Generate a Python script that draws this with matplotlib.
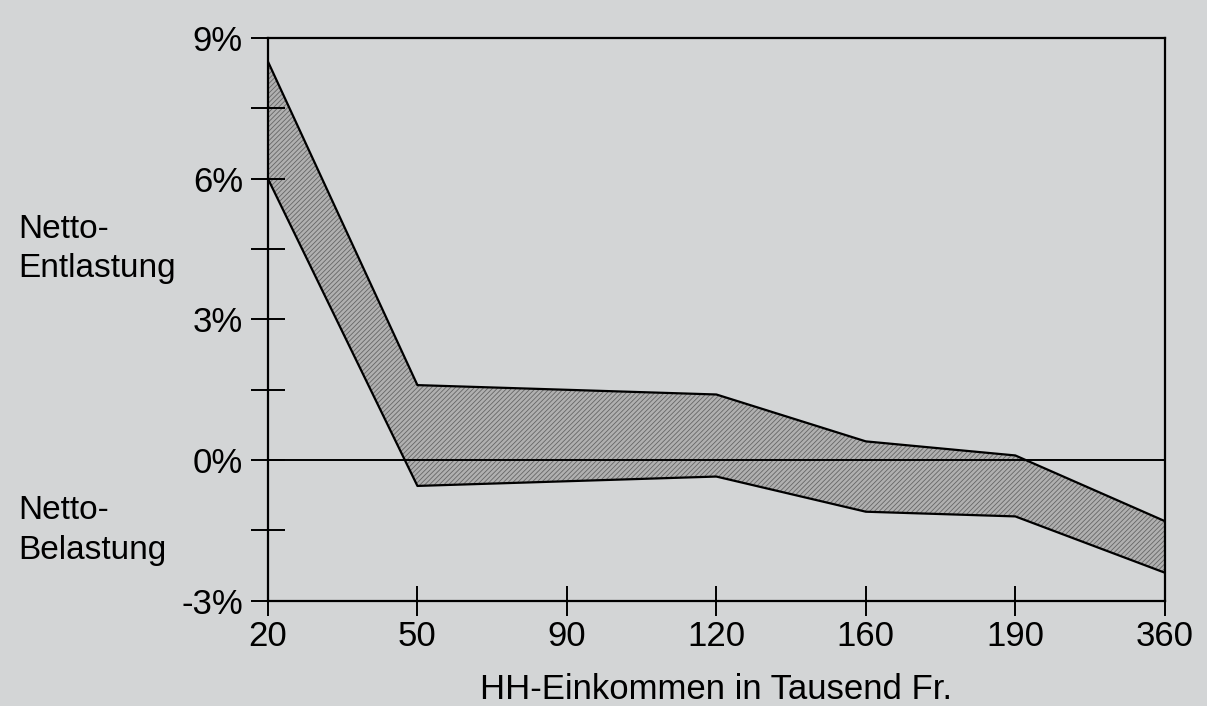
import matplotlib
matplotlib.use("Agg")
import matplotlib.pyplot as plt
import matplotlib.transforms as mtransforms

# daten
einkommen = ["20", "50", "90", "120", "160", "190", "360"]
obere_grenze = [8.5, 1.6, 1.5, 1.4, 0.4, 0.1, -1.3]
untere_grenze = [6.0, -0.55, -0.45, -0.35, -1.1, -1.2, -2.4]
y_ticks = [-3, 0, 3, 6, 9]
y_minor = [-1.5, 1.5, 4.5, 7.5]

plt.rcParams['font.family'] = ['Liberation Sans', 'DejaVu Sans']
plt.rcParams['hatch.linewidth'] = 0.6
plt.rcParams['hatch.color'] = '#666666'

papier = '#d3d5d6'
fig = plt.figure(figsize=(12.07, 7.06), dpi=100, facecolor=papier)
ax = fig.add_axes([0.222, 0.149, 0.743, 0.797])
ax.set_facecolor(papier)

x = list(range(len(einkommen)))
ax.fill_between(x, untere_grenze, obere_grenze, facecolor='#b0b0b0',
                hatch='///////', edgecolor='#666666', linewidth=0, zorder=1)
ax.plot(x, obere_grenze, color='black', lw=1.6, zorder=3)
ax.plot(x, untere_grenze, color='black', lw=1.6, zorder=3)
ax.axhline(0, color='black', lw=1.4, zorder=2)

ax.set_xlim(0, len(einkommen) - 1)
ax.set_ylim(-3, 9)
ax.set_xticks(x)
ax.set_xticklabels(einkommen)
ax.set_yticks(y_ticks)
ax.set_yticklabels([f"{v}%" for v in y_ticks])
ax.set_yticks(y_minor, minor=True)

for s in ax.spines.values():
    s.set_linewidth(1.6)
    s.set_color('black')

ax.tick_params(axis='y', which='both', direction='inout', length=24, width=1.4,
               labelsize=25, pad=6)
ax.tick_params(axis='x', which='major', direction='inout', length=22, width=1.4,
               labelsize=25, pad=3)

ax.set_xlabel("HH-Einkommen in Tausend Fr.", fontsize=25, labelpad=14)

# seitliche beschriftungen
trans = mtransforms.blended_transform_factory(fig.transFigure, ax.transData)
ax.text(0.015, 4.5, "Netto-\nEntlastung", transform=trans, fontsize=24,
        ha='left', va='center', linespacing=1.35)
ax.text(0.015, -1.5, "Netto-\nBelastung", transform=trans, fontsize=24,
        ha='left', va='center', linespacing=1.35)

fig.savefig("out.png", dpi=100, facecolor=papier)
